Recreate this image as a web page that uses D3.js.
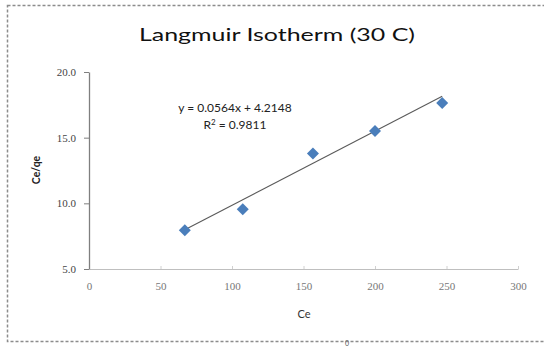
<!DOCTYPE html>
<html lang="en">
<head>
    <meta charset="UTF-8">
    <title>Langmuir Isotherm</title>
    <script src="https://d3js.org/d3.v7.min.js"></script>
</head>

<style type="text/css">
    body {
        margin: 0;
        background-color: white;
    }
</style>
<body>
<div id="chart"></div>

<script>
    var width = 544;
    var height = 347;

    // values
    var ce = [67, 107.5, 156.6, 200, 247];
    var ceqe = [7.96, 9.54, 13.8, 15.5, 17.64];
    var xTicks = [0, 50, 100, 150, 200, 250, 300];
    var yTicks = [5, 10, 15, 20];
    var trend = {slope: 0.0564, intercept: 4.2148};
    var eqText = "y = 0.0564x + 4.2148";
    var r2Text = "0.9811";

    var svg = d3.select("#chart").append("svg")
        .attr("width", width).attr("height", height);

    // dashed chart border
    svg.append("rect")
        .attr("x", 7.5).attr("y", 5.5)
        .attr("width", 560).attr("height", 336)
        .style("fill", "white")
        .style("stroke", "#8c8c8c")
        .style("stroke-width", 1.5)
        .style("stroke-dasharray", "3,2");

    var x = d3.scaleLinear().domain([0, 300]).range([89, 518]);
    var y = d3.scaleLinear().domain([5, 20]).range([269, 72]);

    // title
    svg.append("text")
        .attr("x", 277).attr("y", 41)
        .attr("text-anchor", "middle")
        .attr("textLength", 276)
        .attr("lengthAdjust", "spacingAndGlyphs")
        .style("font-family", "Lato, 'Open Sans', sans-serif")
        .style("font-size", "17px")
        .style("fill", "#111")
        .text("Langmuir Isotherm (30 C)");

    // x axis
    var xAxis = svg.append("g")
        .attr("transform", "translate(0," + y(5) + ")")
        .call(d3.axisBottom(x).tickValues(xTicks).tickSize(3).tickSizeOuter(0).tickFormat(d3.format("d")));
    xAxis.select(".domain").style("stroke", "#bfbfbf");
    xAxis.selectAll(".tick line").style("stroke", "#d0d0d0").attr("y1", -3).attr("y2", 0);
    xAxis.selectAll(".tick text")
        .attr("y", 21)
        .attr("dy", 0)
        .style("fill", "#777")
        .style("font-size", "11px")
        .style("font-family", "'Liberation Serif', serif");

    // y axis
    var yAxis = svg.append("g")
        .attr("transform", "translate(" + x(0) + ",0)")
        .call(d3.axisLeft(y).tickValues(yTicks).tickSize(5).tickSizeOuter(0).tickFormat(d3.format(".1f")));
    yAxis.select(".domain").style("stroke", "#7f7f7f").style("stroke-width", 1.3);
    yAxis.selectAll(".tick line").style("stroke", "#7f7f7f");
    yAxis.selectAll(".tick text")
        .attr("x", -13)
        .style("fill", "#444")
        .style("font-size", "11px")
        .style("font-family", "'Liberation Serif', serif");

    // axis titles
    svg.append("text")
        .attr("x", 304).attr("y", 318)
        .attr("text-anchor", "middle")
        .style("font-family", "Lato, sans-serif")
        .style("font-size", "11px")
        .style("fill", "#333")
        .text("Ce");

    svg.append("text")
        .attr("transform", "translate(40,170) rotate(-90)")
        .attr("text-anchor", "middle")
        .style("font-family", "Lato, sans-serif")
        .style("font-size", "10.5px")
        .style("font-weight", "bold")
        .style("fill", "#222")
        .text("Ce/qe");

    // trendline over data range
    var xExt = d3.extent(ce);
    svg.append("line")
        .attr("x1", x(xExt[0])).attr("y1", y(trend.slope * xExt[0] + trend.intercept))
        .attr("x2", x(xExt[1])).attr("y2", y(trend.slope * xExt[1] + trend.intercept))
        .style("stroke", "#5a5a5a")
        .style("stroke-width", 1.1);

    // points
    var pts = ce.map(function (d, i) {
        return {x: d, y: ceqe[i]};
    });
    svg.selectAll(".pt").data(pts).enter()
        .append("path")
        .attr("class", "pt")
        .attr("d", "M0,-6L6,0L0,6L-6,0Z")
        .attr("transform", function (d) {
            return "translate(" + x(d.x) + "," + y(d.y) + ")";
        })
        .style("fill", "#4a7ebb");

    // equation label
    svg.append("text")
        .attr("x", 235).attr("y", 112)
        .attr("text-anchor", "middle")
        .style("font-family", "Lato, sans-serif")
        .style("font-size", "12px")
        .style("fill", "#222")
        .text(eqText);

    var r2 = svg.append("text")
        .attr("x", 235).attr("y", 129)
        .attr("text-anchor", "middle")
        .style("font-family", "Lato, sans-serif")
        .style("font-size", "12px")
        .style("fill", "#222");
    r2.append("tspan").text("R");
    r2.append("tspan").attr("dy", -4).style("font-size", "8px").text("2");
    r2.append("tspan").attr("dy", 4).text(" = " + r2Text);

    // stray superscript below the frame
    svg.append("text")
        .attr("x", 347).attr("y", 346)
        .attr("text-anchor", "middle")
        .style("font-family", "Lato, sans-serif")
        .style("font-size", "7px")
        .style("fill", "#555")
        .text("0");
</script>

</body>
</html>
